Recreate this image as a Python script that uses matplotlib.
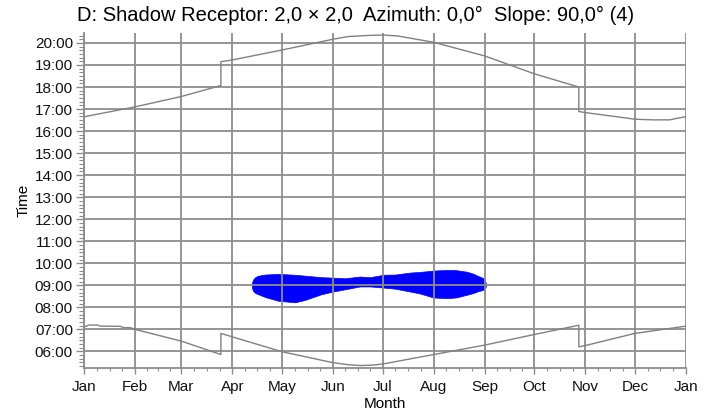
"""Shadow receptor chart: sunrise/sunset and shadow period over the year."""

import matplotlib

matplotlib.use("Agg")

import matplotlib.pyplot as plt
from matplotlib.ticker import FixedLocator, FuncFormatter

MONTHS = ["Jan", "Feb", "Mar", "Apr", "May", "Jun", "Jul",
          "Aug", "Sep", "Oct", "Nov", "Dec", "Jan"]
MONTH_START_DAYS = [0, 31, 59, 90, 120, 151, 181, 212, 243, 273, 304, 334, 365]

# sunset (upper grey line), hours of local time
SUNSET_DAYS = [0, 31, 59, 83, 83, 90, 120, 151, 160, 172, 181, 190,
               212, 243, 273, 300, 300, 304, 334, 345, 355, 365]
SUNSET_HOURS = [16.65, 17.10, 17.57, 18.07, 19.15, 19.23, 19.68, 20.17, 20.29,
                20.34, 20.36, 20.32, 20.03, 19.41, 18.60, 18.00, 16.89, 16.84,
                16.54, 16.51, 16.51, 16.66]

# sunrise (lower grey line)
SUNRISE_DAYS = [0, 3, 8, 10, 22, 24, 28, 31, 59, 83, 83, 90, 120, 151,
                160, 168, 175, 181, 212, 243, 273, 300, 300, 304, 334, 365]
SUNRISE_HOURS = [7.10, 7.20, 7.20, 7.15, 7.14, 7.08, 7.08, 7.00, 6.47, 5.86,
                 6.82, 6.66, 5.99, 5.49, 5.40, 5.36, 5.38, 5.43, 5.86, 6.29,
                 6.77, 7.19, 6.21, 6.27, 6.82, 7.15]

# shadow period (blue area): upper and lower time bound per day
SHADOW_DAYS = [101.7, 102.0, 102.6, 103.5, 104.7, 106.5, 109.8, 117.8, 127.9,
               134.0, 144.1, 151.0, 158.2, 167.3, 173.4, 181.5, 188.6, 197.7,
               203.7, 211.8, 219.9, 225.6, 232.0, 236.0, 239.1, 240.8, 242.0,
               242.9, 243.4, 243.7]
SHADOW_TOP = [9.00, 9.16, 9.27, 9.35, 9.41, 9.45, 9.49, 9.52, 9.48, 9.44,
              9.37, 9.35, 9.32, 9.40, 9.37, 9.48, 9.49, 9.58, 9.61, 9.67,
              9.70, 9.69, 9.62, 9.53, 9.42, 9.37, 9.32, 9.25, 9.16, 9.04]
SHADOW_BOTTOM = [9.00, 8.84, 8.74, 8.67, 8.62, 8.57, 8.47, 8.30, 8.23, 8.34,
                 8.60, 8.72, 8.82, 8.95, 8.95, 8.90, 8.85, 8.72, 8.63, 8.45,
                 8.42, 8.45, 8.57, 8.65, 8.74, 8.77, 8.80, 8.84, 8.90, 9.00]

TITLE = "D: Shadow Receptor: 2,0 × 2,0  Azimuth: 0,0°  Slope: 90,0° (4)"

plt.rcParams["font.family"] = ["Liberation Sans", "DejaVu Sans"]

fig = plt.figure(figsize=(7.15, 4.13), dpi=100)
ax = fig.add_axes([0.1175, 0.109, 0.842, 0.811])

ax.fill_between(SHADOW_DAYS, SHADOW_BOTTOM, SHADOW_TOP,
                color="#0000ff", lw=0.5, ec="#0000ff", zorder=1)
ax.plot(SUNSET_DAYS, SUNSET_HOURS, color="#808080", lw=1.0, zorder=3)
ax.plot(SUNRISE_DAYS, SUNRISE_HOURS, color="#808080", lw=1.0, zorder=3)

ax.set_xlim(0, 365)
ax.set_ylim(5.25, 20.45)

ax.xaxis.set_major_locator(FixedLocator(MONTH_START_DAYS))
ax.set_xticklabels(MONTHS)
minor_x = []
for start, end in zip(MONTH_START_DAYS[:-1], MONTH_START_DAYS[1:]):
    minor_x += [start + k * (end - start) / 4 for k in (1, 2, 3)]
ax.xaxis.set_minor_locator(FixedLocator(minor_x))

ax.yaxis.set_major_locator(FixedLocator(range(6, 21)))
ax.yaxis.set_minor_locator(FixedLocator(
    [h + m / 60 for h in range(5, 21) for m in (10, 20, 30, 40, 50)]))
ax.yaxis.set_major_formatter(FuncFormatter(lambda v, _: f"{int(v):02d}:00"))

ax.set_axisbelow(False)
ax.grid(which="major", color="#8c8c8c", lw=1.3)
for side in ("top", "right"):
    ax.spines[side].set_visible(False)
for side in ("left", "bottom"):
    ax.spines[side].set_color("#8c8c8c")
    ax.spines[side].set_linewidth(1.3)

ax.tick_params(axis="both", which="both", color="#8c8c8c", labelsize=11,
               labelcolor="#111111")
ax.tick_params(axis="y", which="major", length=6, width=1.0, pad=2)
ax.tick_params(axis="y", which="minor", length=3.5, width=0.8)
ax.tick_params(axis="x", which="major", length=4, width=1.0, pad=5)
ax.tick_params(axis="x", which="minor", length=2.5, width=0.8)

ax.set_xlabel("Month", fontsize=11, labelpad=2)
ax.set_ylabel("Time", fontsize=11, labelpad=3)

fig.text(0.497, 0.962, TITLE, ha="center", va="center", fontsize=14.5)

fig.savefig("out.png", dpi=100)
plt.close(fig)
